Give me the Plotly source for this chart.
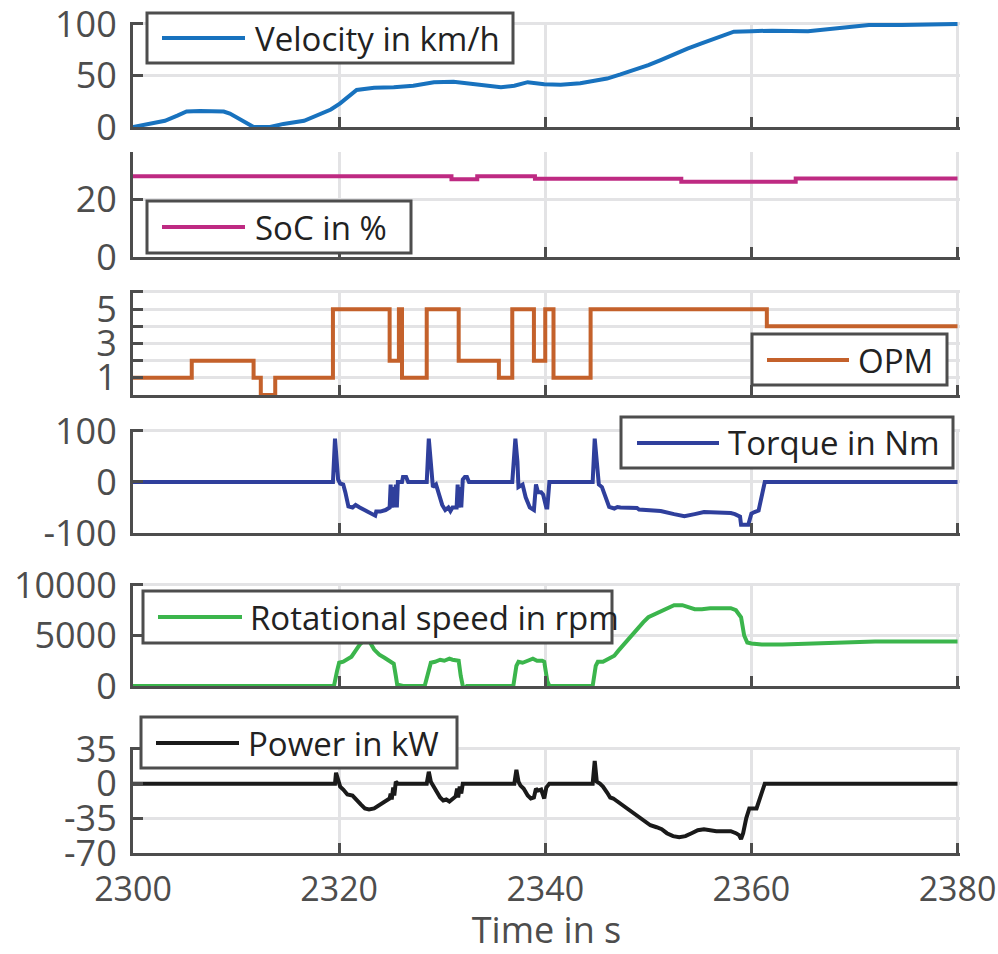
import plotly.graph_objects as go

# ---------------- data ----------------
vel_t = [2300, 2301.4, 2303.1, 2304.3, 2305.2, 2306.5, 2308.8, 2309.4, 2310.1, 2310.7, 2311.7, 2313.3,
         2314.6, 2316.6, 2317.9, 2319.2, 2320.1, 2321.1, 2321.7, 2323.4, 2325.3, 2327.2, 2329.2, 2331.1,
         2333.7, 2335.7, 2337.0, 2338.3, 2339.9, 2341.5, 2343.4, 2345.0, 2346.0, 2347.3, 2348.6, 2350.0,
         2351.2, 2352.5, 2353.8, 2355.1, 2356.4, 2357.4, 2358.3, 2360.0, 2362.0, 2365.5, 2368.1, 2371.4,
         2374.6, 2380]
vel_v = [0, 3, 6, 11, 15, 15.5, 15, 13, 9, 5, 0, 0,
         3, 6, 12, 17, 23, 31, 36, 38, 38.5, 40, 43.5, 44,
         41, 38.5, 40, 43.5, 41.5, 41, 42.5, 45, 47, 51, 55, 60,
         65, 71, 76, 81, 86, 90, 92.5, 93, 93.5, 93, 96, 99,
         99, 100]

soc_t = [2300, 2330.9, 2333.4, 2339.0, 2353.2, 2364.3, 2380]
soc_v = [28.2, 27.2, 28.2, 27.3, 26.3, 27.4, 27.4]

opm_t = [2300, 2305.7, 2311.7, 2312.4, 2313.8, 2319.4, 2324.9, 2325.8, 2326.1, 2328.5, 2331.6,
         2335.5, 2336.8, 2338.9, 2340.0, 2340.8, 2344.4, 2361.5, 2380]
opm_v = [1, 2, 1, 0, 1, 5, 2, 5, 1, 5, 2, 1, 5, 2, 5, 1, 5, 4, 4]

trq_t = [2300, 2319.4, 2319.6, 2319.9, 2320.1, 2320.4, 2320.6, 2320.9, 2321.3, 2321.6, 2322.0, 2322.7,
         2323.3, 2323.5, 2323.6, 2324.0, 2324.5, 2324.9, 2325.0, 2325.1, 2325.25, 2325.35, 2325.5,
         2325.6, 2325.7, 2326.1, 2326.2, 2326.5, 2326.7, 2328.5, 2328.7, 2328.9, 2329.1, 2329.4,
         2329.6, 2330.0, 2330.3, 2330.6, 2330.8, 2331.0, 2331.4, 2331.5, 2331.6, 2331.75, 2331.85,
         2332.0, 2332.2, 2332.4, 2332.6, 2336.8, 2337.1, 2337.3, 2337.4, 2337.8, 2338.1, 2338.5,
         2338.9, 2339.1, 2339.3, 2339.6, 2339.8, 2340.1, 2340.2, 2340.4, 2344.6, 2344.8, 2345.0,
         2345.2, 2345.5, 2346.2, 2346.7, 2347.0, 2347.3, 2348.9, 2349.1, 2349.6, 2351.2, 2352.5,
         2353.5, 2354.5, 2355.4, 2358.0, 2358.4, 2358.9, 2359.0, 2359.7, 2360.0, 2360.3, 2360.7,
         2361.3, 2380]
trq_v = [0, 0, 85, 5, -3, -5, -20, -48, -50, -45, -50, -57,
         -62, -66, -58, -58, -55, -50, -5, -50, -10, -50, -5,
         -50, 0, 0, 10, 10, 0, 0, 85, 40, -10, -5,
         -20, -45, -55, -50, -57, -50, -50, -5, -50, -10, -50,
         5, 10, 10, 0, 0, 85, 40, -10, -5, -30, -50,
         -55, -5, -20, -20, -25, -50, -50, 0, 0, 85, 40,
         -5, -10, -49, -52, -49, -50, -51, -54, -55, -57, -63,
         -67, -63, -59, -61, -63, -68, -84, -84, -62, -59, -56,
         0, 0]

spd_t = [2300, 2319.5, 2319.8, 2320.0, 2320.4, 2320.8, 2321.2, 2321.6, 2322.0, 2322.6, 2323.0, 2323.4,
         2323.9, 2324.4, 2324.9, 2325.3, 2325.5, 2325.6, 2325.7, 2325.8, 2326.2, 2328.3, 2328.6,
         2328.9, 2329.3, 2329.8, 2330.2, 2330.7, 2331.0, 2331.6, 2331.8, 2332.0, 2332.2, 2332.4,
         2336.9, 2337.2, 2337.4, 2337.8, 2338.3, 2338.8, 2339.2, 2339.7, 2339.9, 2340.2, 2340.4,
         2344.6, 2344.9, 2345.1, 2345.6, 2346.0, 2346.3, 2346.7, 2347.1, 2347.6, 2348.0, 2348.5,
         2349.0, 2349.5, 2350.0, 2350.6, 2351.2, 2351.9, 2352.5, 2353.3, 2353.9, 2354.5, 2355.2,
         2356.0, 2357.0, 2358.0, 2358.5, 2359.0, 2359.3, 2359.6, 2360.0, 2361.0, 2363.0, 2366.0,
         2369.0, 2372.0, 2376.0, 2380]
spd_v = [0, 0, 1500, 2300, 2400, 2700, 2900, 3500, 4100, 4700, 4300, 3600,
         3100, 2800, 2400, 2200, 1000, 0, -300, 100, 0, 0, 1200,
         2300, 2400, 2600, 2500, 2700, 2600, 2500, 1000, 0, -300, 0,
         0, 2000, 2400, 2300, 2500, 2700, 2500, 2500, 2400, 500, 0,
         0, 2000, 2400, 2400, 2600, 2800, 3000, 3500, 4100, 4600, 5200,
         5800, 6300, 6800, 7100, 7300, 7700, 8000, 8000, 7800, 7600, 7600,
         7700, 7700, 7700, 7500, 6800, 5000, 4300, 4200, 4100, 4100, 4200,
         4300, 4400, 4400, 4400]

pwr_t = [2300, 2319.6, 2319.7, 2319.9, 2320.1, 2320.4, 2320.8, 2321.3, 2321.7, 2322.1, 2322.5, 2322.9,
         2323.4, 2323.9, 2324.4, 2324.9, 2325.0, 2325.1, 2325.25, 2325.35, 2325.5, 2325.7, 2328.5,
         2328.7, 2328.9, 2329.2, 2329.5, 2329.8, 2330.1, 2330.4, 2330.7, 2331.0, 2331.3, 2331.45,
         2331.55, 2331.7, 2331.85, 2332.0, 2337.0, 2337.2, 2337.4, 2337.6, 2337.9, 2338.3, 2338.6,
         2338.9, 2339.1, 2339.3, 2339.6, 2339.9, 2340.1, 2340.4, 2344.6, 2344.8, 2345.0, 2345.3,
         2345.6, 2346.0, 2346.3, 2346.6, 2347.0, 2347.6, 2348.2, 2348.8, 2349.5, 2350.2, 2350.8,
         2351.3, 2351.8, 2352.4, 2353.0, 2353.6, 2354.2, 2354.8, 2355.4, 2356.0, 2356.6, 2357.3,
         2358.0, 2358.5, 2358.8, 2359.0, 2359.2, 2359.5, 2359.8, 2360.5, 2361.0, 2361.3, 2380]
pwr_v = [0, 0, 11, 2, -3, -6, -11, -12, -17, -21, -25, -26,
         -25, -22, -19, -15, -10, -16, -4, -12, 2, 0, 0,
         12, 2, -3, -8, -14, -17, -16, -18, -15, -13, -5,
         -14, -3, -10, 0, 0, 14, 2, -2, -5, -12, -15,
         -14, -5, -7, -6, -15, -4, 0, 0, 23, 2, 0,
         -3, -9, -14, -15, -18, -22, -27, -31, -37, -42, -44,
         -46, -50, -53, -54, -53, -50, -47, -46, -47, -48, -48,
         -48, -50, -52, -56, -50, -35, -25, -25, -8, 0, 0]

x_ticks = [2300, 2320, 2340, 2360, 2380]
x_labels = ["2300", "2320", "2340", "2360", "2380"]
vel_ticks, vel_labels = [0, 50, 100], ["0", "50", "100"]
soc_ticks, soc_labels = [0, 20], ["0", "20"]
opm_ticks, opm_labels = [1, 3, 5], ["1", "3", "5"]
opm_minor = [0, 2, 4, 6]
trq_ticks, trq_labels = [-100, 0, 100], ["-100", "0", "100"]
spd_ticks, spd_labels = [0, 5000, 10000], ["0", "5000", "10000"]
pwr_ticks, pwr_labels = [-70, -35, 0, 35], ["-70", "-35", "0", "35"]

names = ["Velocity in km/h", "SoC in %", "OPM", "Torque in Nm", "Rotational speed in rpm", "Power in kW"]
colors = ["#1872BE", "#BE2A82", "#C4612B", "#2F3F9C", "#3BB54C", "#1A1A1A"]

# ---------------- layout geometry (pixels) ----------------
W, H = 998, 954
L, R, T, B = 133, 960, 22, 853


def px(x):
    return (x - L) / (R - L)


def py(y):
    return (B - y) / (B - T)


domains = [(127, 22), (257, 152), (395, 290), (533, 429), (686, 583), (853, 747)]

series = [
    (vel_t, vel_v, "linear", [0, 100], vel_ticks, vel_labels, None),
    (soc_t, soc_v, "hv", [0, 36], soc_ticks, soc_labels, None),
    (opm_t, opm_v, "hv", [0, 6], opm_ticks, opm_labels, opm_minor),
    (trq_t, trq_v, "linear", [-100, 100], trq_ticks, trq_labels, None),
    (spd_t, spd_v, "linear", [0, 10000], spd_ticks, spd_labels, None),
    (pwr_t, pwr_v, "linear", [-70, 35], pwr_ticks, pwr_labels, None),
]

AX = "#4D4D4D"
GRID = "#E3E3E5"
FONT = "Open Sans"
X_RANGE = [2300, 2380]


def pad_range(rng, npx, length):
    # widen the top end by a couple of pixels so that the end grid line is kept
    span = rng[1] - rng[0]
    return [rng[0], rng[1] + span * npx / length]


fig = go.Figure()
layout = dict(
    width=W, height=H,
    margin=dict(l=L, r=W - R, t=T, b=H - B, autoexpand=False),
    paper_bgcolor="white", plot_bgcolor="white",
    showlegend=False,
    font=dict(family=FONT, color=AX, size=36),
)

for i, (t, v, shape, rng, tv, tt, minor) in enumerate(series):
    k = "" if i == 0 else str(i + 1)
    fig.add_trace(go.Scatter(x=t, y=v, mode="lines", name=names[i],
                             line=dict(color=colors[i], width=4, shape=shape),
                             xaxis="x" + k, yaxis="y" + k))
    d0, d1 = domains[i]
    xa = dict(domain=[0, 1], anchor="y" + k, range=pad_range(X_RANGE, 2.5, R - L),
              tickvals=x_ticks, ticktext=x_labels, automargin=False,
              ticklabeloverflow="allow",
              showline=True, linecolor=AX, linewidth=3, ticks="inside", ticklen=10,
              tickwidth=3, tickcolor=AX, showgrid=True, gridcolor=GRID, gridwidth=3,
              zeroline=False, showticklabels=(i == 5), ticklabelstandoff=4,
              tickfont=dict(family=FONT, size=34, color=AX))
    if i > 0:
        xa["matches"] = "x"
    if i == 5:
        xa["title"] = dict(text="Time in s", font=dict(family=FONT, size=36, color=AX), standoff=12)
    ya = dict(domain=[py(d0), py(d1)], anchor="x" + k, range=pad_range(rng, 2.0, d0 - d1),
              tickvals=tv, ticktext=tt, automargin=False, ticklabeloverflow="allow",
              showline=True, linecolor=AX, linewidth=3, ticks="inside", ticklen=10,
              tickwidth=3, tickcolor=AX, showgrid=True, gridcolor=GRID, gridwidth=3,
              zeroline=False, ticklabelstandoff=6,
              tickfont=dict(family=FONT, size=36, color=AX))
    if minor is not None:
        ya["minor"] = dict(tickvals=minor, ticks="inside", ticklen=10, tickwidth=3,
                           tickcolor=AX, showgrid=True, gridcolor=GRID, gridwidth=3)
    layout["xaxis" + k] = xa
    layout["yaxis" + k] = ya

# ---------------- legend boxes (one per panel) ----------------
legend_boxes = [
    # box x0, y0, x1, y1, line x0, x1, line y, text x
    (147, 13, 513, 63, 162, 245, 38, 253),
    (147, 201, 411, 253, 162, 245, 227, 253),
    (752, 334, 947, 385, 767, 849, 360, 856),
    (621, 417, 953, 468, 637, 719, 443, 726),
    (143, 591, 612, 643, 158, 242, 617, 248),
    (141, 717, 457, 768, 156, 239, 743, 246),
]
shapes, annots = [], []
for i, (bx0, by0, bx1, by1, lx0, lx1, ly, tx) in enumerate(legend_boxes):
    shapes.append(dict(type="rect", xref="paper", yref="paper", x0=px(bx0), x1=px(bx1),
                       y0=py(by1), y1=py(by0), line=dict(color=AX, width=3),
                       fillcolor="white", layer="above"))
    shapes.append(dict(type="line", xref="paper", yref="paper", x0=px(lx0), x1=px(lx1),
                       y0=py(ly), y1=py(ly), line=dict(color=colors[i], width=4), layer="above"))
    annots.append(dict(xref="paper", yref="paper", x=px(tx), y=py(ly), text=names[i],
                       showarrow=False, xanchor="left", yanchor="middle",
                       font=dict(family=FONT, size=33, color="#222222")))
layout["shapes"] = shapes
layout["annotations"] = annots

fig.update_layout(**layout)
fig.write_html("out.html")
